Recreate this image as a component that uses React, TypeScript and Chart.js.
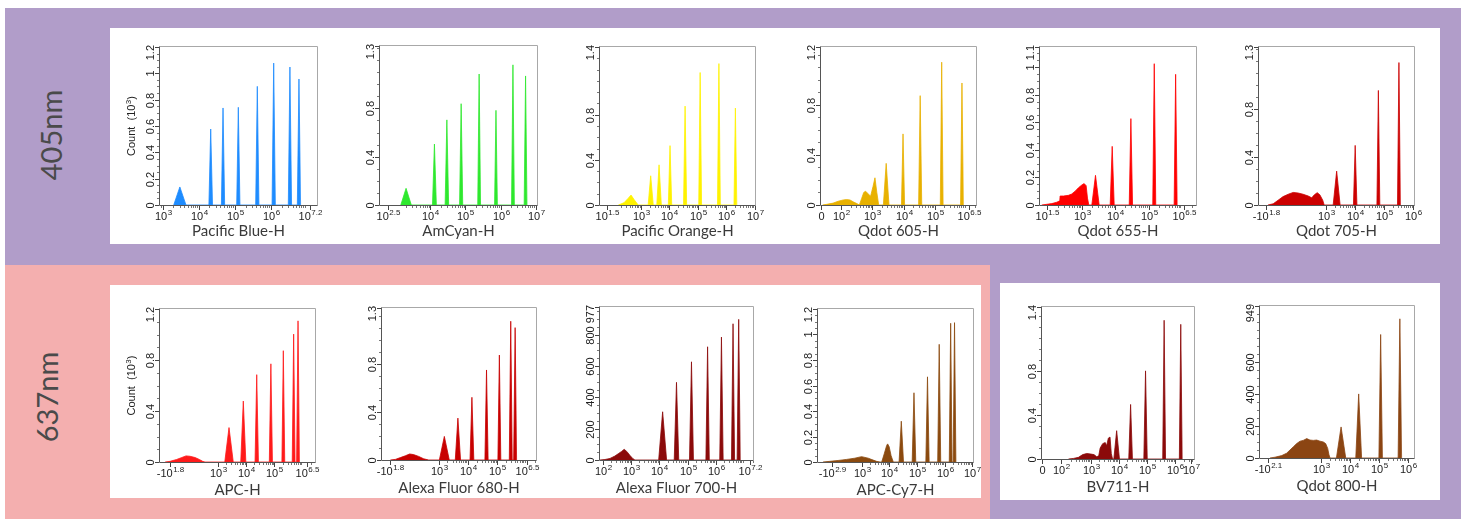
import React, { useEffect, useRef } from "react";
import { Chart, registerables } from "chart.js";

Chart.register(...registerables);

// ---------- DATA (x in display decades, y in counts x10^3 or counts) ----------
// peaks: [center, height, halfWidth]; hump: [x, y] points of broad populations

const pbXTicks: [number, string, string][] = [[3, "10", "3"], [4, "10", "4"], [5, "10", "5"], [6, "10", "6"], [7.08, "10", "7.2"]];
const pbYTicks = [0, 0.2, 0.4, 0.6, 0.8, 1];
const pbHump: number[][] = [];
const pbPeaks = [[3.48, 0.137, 0.17], [4.335, 0.577, 0.05], [4.676, 0.737, 0.045], [5.1, 0.742, 0.045], [5.626, 0.901, 0.045], [6.08, 1.078, 0.045], [6.53, 1.048, 0.045], [6.78, 0.957, 0.045]];

const acXTicks: [number, string, string][] = [[2.78, "10", "2.5"], [4, "10", "4"], [5, "10", "5"], [6, "10", "6"], [7, "10", "7"]];
const acYTicks = [0, 0.4, 0.8];
const acHump: number[][] = [];
const acPeaks = [[3.306, 0.138, 0.15], [4.115, 0.505, 0.055], [4.47, 0.705, 0.05], [4.877, 0.839, 0.045], [5.39, 1.085, 0.04], [5.87, 0.784, 0.04], [6.354, 1.161, 0.04], [6.714, 1.069, 0.04]];

const poXTicks: [number, string, string][] = [[1.79, "10", "1.5"], [3, "10", "3"], [4, "10", "4"], [5, "10", "5"], [6, "10", "6"], [7, "10", "7"]];
const poYTicks = [0, 0.4, 0.8];
const poHump = [[2.2, 0], [2.4, 0.02], [2.55, 0.06], [2.648, 0.088], [2.75, 0.05], [2.9, 0]];
const poPeaks = [[3.34, 0.259, 0.09], [3.634, 0.356, 0.08], [4.02, 0.526, 0.06], [4.55, 0.876, 0.055], [5.08, 1.174, 0.05], [5.74, 1.253, 0.05], [6.32, 0.859, 0.05]];

const q605XTicks: [number, string, string][] = [[1.35, "0", ""], [2, "10", "2"], [3, "10", "3"], [4, "10", "4"], [5, "10", "5"], [6.1, "10", "6.5"]];
const q605YTicks = [0, 0.4, 0.8];
const q605Hump = [[1.4, 0], [1.53, 0.005], [1.74, 0.015], [1.9, 0.03], [2.06, 0.04], [2.17, 0.043], [2.28, 0.04], [2.385, 0.025], [2.51, 0.01], [2.58, 0], [2.65, 0.05], [2.72, 0.1], [2.78, 0.11], [2.86, 0.09], [2.94, 0.07], [3.02, 0.15], [3.08, 0.217], [3.14, 0.1], [3.2, 0]];
const q605Peaks = [[3.44, 0.332, 0.09], [3.98, 0.567, 0.05], [4.53, 0.872, 0.05], [5.22, 1.139, 0.045], [5.87, 0.973, 0.045]];

const q655XTicks: [number, string, string][] = [[1.95, "10", "1.5"], [3, "10", "3"], [4, "10", "4"], [5, "10", "5"], [6.07, "10", "6.5"]];
const q655YTicks = [0, 0.2, 0.4, 0.6, 0.8, 1];
const q655Hump = [[1.8, 0], [1.95, 0.005], [2.1, 0.01], [2.25, 0.02], [2.34, 0.03], [2.35, 0.065], [2.45, 0.065], [2.6, 0.07], [2.7, 0.08], [2.8, 0.1], [2.9, 0.125], [3.0, 0.145], [3.07, 0.155], [3.13, 0.14], [3.17, 0.05], [3.21, 0]];
const q655Peaks = [[3.41, 0.215, 0.11], [3.91, 0.425, 0.06], [4.47, 0.626, 0.05], [5.17, 1.024, 0.045], [5.81, 0.947, 0.045]];

const q705XTicks: [number, string, string][] = [[0.948, "-10", "1.8"], [3, "10", "3"], [4, "10", "4"], [5, "10", "5"], [6, "10", "6"]];
const q705YTicks = [0, 0.4, 0.8];
const q705Hump = [[1.0, 0], [1.18, 0.01], [1.35, 0.04], [1.52, 0.07], [1.7, 0.09], [1.87, 0.105], [2.04, 0.1], [2.21, 0.09], [2.39, 0.075], [2.51, 0.06], [2.6, 0.085], [2.7, 0.103], [2.79, 0.085], [2.89, 0.04], [2.94, 0]];
const q705Peaks = [[3.37, 0.283, 0.12], [4.01, 0.498, 0.06], [4.81, 0.957, 0.05], [5.52, 1.19, 0.05]];

const apcXTicks: [number, string, string][] = [[1.3, "-10", "1.8"], [3, "10", "3"], [4, "10", "4"], [5, "10", "5"], [6.17, "10", "6.5"]];
const apcYTicks = [0, 0.4, 0.8];
const apcHump = [[1.14, 0], [1.315, 0.005], [1.55, 0.02], [1.73, 0.035], [1.88, 0.048], [2.02, 0.045], [2.2, 0.035], [2.35, 0.02], [2.47, 0.005], [2.55, 0]];
const apcPeaks = [[3.4, 0.27, 0.15], [3.905, 0.478, 0.09], [4.38, 0.685, 0.06], [4.88, 0.77, 0.055], [5.32, 0.873, 0.05], [5.685, 1.003, 0.05], [5.84, 1.107, 0.05]];

const af680XTicks: [number, string, string][] = [[1.345, "-10", "1.8"], [3, "10", "3"], [4, "10", "4"], [5, "10", "5"], [6.04, "10", "6.5"]];
const af680YTicks = [0, 0.4, 0.8];
const af680Hump = [[1.346, 0], [1.517, 0.005], [1.69, 0.02], [1.86, 0.035], [2.007, 0.05], [2.14, 0.045], [2.315, 0.03], [2.486, 0.01], [2.66, 0]];
const af680Peaks = [[3.195, 0.196, 0.17], [3.66, 0.348, 0.09], [4.14, 0.521, 0.065], [4.64, 0.748, 0.055], [5.08, 0.872, 0.05], [5.47, 1.153, 0.05], [5.62, 1.1, 0.05]];

const af700XTicks: [number, string, string][] = [[2, "10", "2"], [3, "10", "3"], [4, "10", "4"], [5, "10", "5"], [6, "10", "6"], [7.2, "10", "7.2"]];
const af700YTicks = [0, 200, 400, 600, 800];
const af700Hump = [[1.905, 0], [2.08, 3], [2.26, 10], [2.43, 25], [2.55, 40], [2.67, 55], [2.76, 68], [2.85, 55], [2.96, 30], [3.06, 10], [3.14, 0]];
const af700Peaks = [[4.12, 308, 0.14], [4.61, 496, 0.08], [5.14, 627, 0.07], [5.71, 723, 0.06], [6.2, 785, 0.06], [6.61, 870, 0.055], [6.81, 898, 0.055]];

const cy7XTicks: [number, string, string][] = [[1.92, "-10", "2.9"], [3, "10", "3"], [4, "10", "4"], [5, "10", "5"], [6, "10", "6"], [7, "10", "7"]];
const cy7YTicks = [0, 0.2, 0.4, 0.6, 0.8, 1];
const cy7Hump = [[1.59, 0], [1.83, 0.005], [2.14, 0.012], [2.44, 0.02], [2.745, 0.03], [2.99, 0.042], [3.23, 0.03], [3.41, 0.015], [3.535, 0.005], [3.66, 0], [3.72, 0], [3.82, 0.07], [3.9, 0.13], [3.935, 0.142], [3.99, 0.12], [4.06, 0.05], [4.14, 0]];
const cy7Peaks = [[4.43, 0.32, 0.08], [4.89, 0.543, 0.065], [5.38, 0.668, 0.06], [5.805, 0.923, 0.055], [6.22, 1.088, 0.05], [6.36, 1.093, 0.05]];

const bv711XTicks: [number, string, string][] = [[1.29, "0", ""], [1.95, "10", "2"], [3, "10", "3"], [4, "10", "4"], [5, "10", "5"], [6, "10", "6"], [6.58, "10", "7"]];
const bv711YTicks = [0, 0.4, 0.8];
const bv711Hump = [[2.216, 0], [2.39, 0.005], [2.57, 0.015], [2.72, 0.04], [2.865, 0.05], [3.01, 0.045], [3.12, 0.04], [3.22, 0.02], [3.29, 0.03], [3.34, 0.1], [3.43, 0.14], [3.52, 0.15], [3.57, 0.12], [3.63, 0.19], [3.69, 0.2], [3.735, 0.05], [3.78, 0]];
const bv711Peaks = [[3.925, 0.258, 0.1], [4.42, 0.497, 0.065], [4.95, 0.803, 0.06], [5.61, 1.264, 0.05], [6.2, 1.227, 0.05]];

const q800XTicks: [number, string, string][] = [[1.17, "-10", "2.1"], [3, "10", "3"], [4, "10", "4"], [5, "10", "5"], [6, "10", "6"]];
const q800YTicks = [0, 200, 400, 600];
const q800Hump = [[1.247, 0], [1.42, 5], [1.65, 15], [1.82, 30], [1.935, 50], [2.05, 70], [2.165, 90], [2.28, 105], [2.39, 110], [2.51, 121], [2.62, 112], [2.735, 110], [2.85, 112], [2.965, 105], [3.08, 100], [3.16, 90], [3.23, 60], [3.275, 20], [3.31, 0]];
const q800Peaks = [[3.69, 194, 0.16], [4.295, 400, 0.1], [5.05, 771, 0.06], [5.71, 869, 0.06]];

// ---------- LAYOUT ----------
type Panel = {
  title: string; color: string;
  left: number; right: number; top: number; bottom: number;
  xMin: number; xMax: number; yMax: number; yTop: string;
  xTicks: [number, string, string][]; yTicks: number[];
  hump: number[][]; peaks: number[][];
  yTitle: boolean; minorStart: number; titleDy: number;
};

const panels: Panel[] = [
  { title: "Pacific Blue-H", color: "#1E8CFF", left: 160, right: 317, top: 47, bottom: 205, xMin: 2.93, xMax: 7.28, yMax: 1.2, yTop: "1.2", xTicks: pbXTicks, yTicks: pbYTicks, hump: pbHump, peaks: pbPeaks, yTitle: true, minorStart: 2, titleDy: 26 },
  { title: "AmCyan-H", color: "#2EE82E", left: 380, right: 537, top: 46, bottom: 205, xMin: 2.563, xMax: 7.04, yMax: 1.317, yTop: "1.3", xTicks: acXTicks, yTicks: acYTicks, hump: acHump, peaks: acPeaks, yTitle: false, minorStart: 3, titleDy: 26 },
  { title: "Pacific Orange-H", color: "#FFF200", left: 600, right: 755, top: 47, bottom: 205, xMin: 1.556, xMax: 7.01, yMax: 1.4, yTop: "1.4", xTicks: poXTicks, yTicks: poYTicks, hump: poHump, peaks: poPeaks, yTitle: false, minorStart: 2, titleDy: 26 },
  { title: "Qdot 605-H", color: "#E8B100", left: 821, right: 976, top: 47, bottom: 205, xMin: 1.35, xMax: 6.32, yMax: 1.26, yTop: "1.2", xTicks: q605XTicks, yTicks: q605YTicks, hump: q605Hump, peaks: q605Peaks, yTitle: false, minorStart: 2, titleDy: 26 },
  { title: "Qdot 655-H", color: "#FF0000", left: 1040, right: 1196, top: 47, bottom: 205, xMin: 1.748, xMax: 6.42, yMax: 1.145, yTop: "1.1", xTicks: q655XTicks, yTicks: q655YTicks, hump: q655Hump, peaks: q655Peaks, yTitle: false, minorStart: 2, titleDy: 26 },
  { title: "Qdot 705-H", color: "#CC0000", left: 1259, right: 1414, top: 47, bottom: 205, xMin: 0.69, xMax: 6.04, yMax: 1.32, yTop: "1.3", xTicks: q705XTicks, yTicks: q705YTicks, hump: q705Hump, peaks: q705Peaks, yTitle: false, minorStart: 3, titleDy: 26 },
  { title: "APC-H", color: "#FF1A1A", left: 160, right: 315, top: 309, bottom: 462, xMin: 0.96, xMax: 6.44, yMax: 1.2, yTop: "1.2", xTicks: apcXTicks, yTicks: apcYTicks, hump: apcHump, peaks: apcPeaks, yTitle: true, minorStart: 3, titleDy: 28 },
  { title: "Alexa Fluor 680-H", color: "#C80000", left: 382, right: 536, top: 308, bottom: 460, xMin: 1.06, xMax: 6.335, yMax: 1.263, yTop: "1.3", xTicks: af680XTicks, yTicks: af680YTicks, hump: af680Hump, peaks: af680Peaks, yTitle: false, minorStart: 3, titleDy: 28 },
  { title: "Alexa Fluor 700-H", color: "#8B0A0A", left: 600, right: 753, top: 307, bottom: 460, xMin: 1.905, xMax: 7.316, yMax: 977, yTop: "977", xTicks: af700XTicks, yTicks: af700YTicks, hump: af700Hump, peaks: af700Peaks, yTitle: false, minorStart: 2, titleDy: 28 },
  { title: "APC-Cy7-H", color: "#8B4A0F", left: 818, right: 973, top: 309, bottom: 462, xMin: 1.41, xMax: 7.03, yMax: 1.2, yTop: "1.2", xTicks: cy7XTicks, yTicks: cy7YTicks, hump: cy7Hump, peaks: cy7Peaks, yTitle: false, minorStart: 3, titleDy: 28 },
  { title: "BV711-H", color: "#8B0A0A", left: 1042, right: 1194, top: 307, bottom: 459, xMin: 1.276, xMax: 6.67, yMax: 1.385, yTop: "1.4", xTicks: bv711XTicks, yTicks: bv711YTicks, hump: bv711Hump, peaks: bv711Peaks, yTitle: false, minorStart: 2, titleDy: 28 },
  { title: "Qdot 800-H", color: "#8B4513", left: 1260, right: 1414, top: 306, bottom: 458, xMin: 0.904, xMax: 6.196, yMax: 949, yTop: "949", xTicks: q800XTicks, yTicks: q800YTicks, hump: q800Hump, peaks: q800Peaks, yTitle: false, minorStart: 3, titleDy: 28 },
];

const PURPLE = "#B19DC9";
const PINK = "#F4AFAF";
const TICK_FONT = '"Liberation Sans", Arial, sans-serif';
const PAD = { left: 48, top: 12, right: 26, bottom: 42 };

function buildPoints(hump: number[][], peaks: number[][]) {
  const pts = hump.map(([x, y]) => ({ x, y }));
  for (const [c, h, w] of peaks) {
    pts.push({ x: c - w, y: 0 }, { x: c, y: h }, { x: c + w, y: 0 });
  }
  pts.sort((a, b) => a.x - b.x);
  return pts;
}

function axesPlugin(p: Panel) {
  return {
    id: "flowAxes",
    afterDatasetsDraw(chart: any) {
      const { ctx, chartArea: a, scales } = chart;
      const xs = scales.x, ys = scales.y;
      const L = Math.round(a.left), R = Math.round(a.right), T = Math.round(a.top), B = Math.round(a.bottom);
      ctx.save();
      ctx.lineWidth = 1;
      // frame
      ctx.strokeStyle = "#a8a8a8";
      ctx.beginPath();
      ctx.moveTo(L - 0.5, T - 0.5); ctx.lineTo(R + 0.5, T - 0.5); ctx.lineTo(R + 0.5, B + 0.5);
      ctx.stroke();
      ctx.strokeStyle = "#555";
      ctx.beginPath();
      ctx.moveTo(L - 0.5, T - 0.5); ctx.lineTo(L - 0.5, B + 0.5); ctx.lineTo(R + 0.5, B + 0.5);
      ctx.stroke();
      // x minor ticks
      ctx.strokeStyle = "#777";
      ctx.beginPath();
      for (let n = p.minorStart; n < p.xMax; n++) {
        for (let k = 2; k <= 9; k++) {
          const v = n + Math.log10(k);
          if (v <= p.xMin || v >= p.xMax) continue;
          const px = Math.round(xs.getPixelForValue(v)) + 0.5;
          ctx.moveTo(px, B + 1); ctx.lineTo(px, B + 3);
        }
      }
      ctx.stroke();
      // x major ticks + labels
      ctx.strokeStyle = "#444";
      ctx.fillStyle = "#222";
      ctx.textBaseline = "alphabetic";
      ctx.textAlign = "left";
      for (const [pos, base, exp] of p.xTicks) {
        const px = Math.round(xs.getPixelForValue(pos)) + 0.5;
        ctx.beginPath(); ctx.moveTo(px, B + 1); ctx.lineTo(px, B + 5); ctx.stroke();
        ctx.font = `11px ${TICK_FONT}`;
        const wb = ctx.measureText(base).width;
        ctx.font = `8px ${TICK_FONT}`;
        const we = exp ? ctx.measureText(exp).width + 0.5 : 0;
        const x0 = px - (wb + we) / 2;
        ctx.font = `11px ${TICK_FONT}`;
        ctx.fillText(base, x0, B + 14.5);
        if (exp) {
          ctx.font = `8px ${TICK_FONT}`;
          ctx.fillText(exp, x0 + wb + 0.5, B + 9.5);
        }
      }
      // y minor ticks
      const step = p.yTicks[1] - p.yTicks[0];
      ctx.strokeStyle = "#777";
      ctx.beginPath();
      for (let v = 0; v <= p.yMax + 1e-9; v += step / 4) {
        const py = Math.round(ys.getPixelForValue(v)) + 0.5;
        ctx.moveTo(L - 3, py); ctx.lineTo(L - 1, py);
      }
      ctx.stroke();
      // y major ticks + labels
      ctx.strokeStyle = "#444";
      ctx.font = `11px ${TICK_FONT}`;
      const yl: [number, string][] = p.yTicks.map((v) => [v, String(v)] as [number, string]);
      yl.push([p.yMax, p.yTop]);
      for (const [v, label] of yl) {
        const py = Math.round(ys.getPixelForValue(v)) + 0.5;
        ctx.beginPath(); ctx.moveTo(L - 5, py); ctx.lineTo(L - 1, py); ctx.stroke();
        const hw = ctx.measureText(label).width / 2;
        let cy = py;
        if (cy - hw < T - 2) cy = T - 2 + hw;
        ctx.save();
        ctx.translate(L - 6, cy);
        ctx.rotate(-Math.PI / 2);
        ctx.textAlign = "center";
        ctx.fillText(label, 0, 0);
        ctx.restore();
      }
      // y title
      if (p.yTitle) {
        ctx.save();
        ctx.translate(L - 25, (T + B) / 2);
        ctx.rotate(-Math.PI / 2);
        ctx.textAlign = "left";
        ctx.font = `11px ${TICK_FONT}`;
        const s1 = "Count  (10", s3 = ")";
        const w1 = ctx.measureText(s1).width, w3 = ctx.measureText(s3).width;
        ctx.font = `8px ${TICK_FONT}`;
        const w2 = ctx.measureText("3").width + 0.5;
        const x0 = -(w1 + w2 + w3) / 2;
        ctx.font = `11px ${TICK_FONT}`;
        ctx.fillText(s1, x0, 0);
        ctx.fillText(s3, x0 + w1 + w2, 0);
        ctx.font = `8px ${TICK_FONT}`;
        ctx.fillText("3", x0 + w1 + 0.3, -4.5);
        ctx.restore();
      }
      // title
      ctx.font = '15px Lato, "Open Sans", sans-serif';
      ctx.fillStyle = "#3a3a3a";
      ctx.textAlign = "center";
      ctx.textBaseline = "middle";
      ctx.fillText(p.title, (L + R) / 2, B + p.titleDy);
      ctx.restore();
    },
  };
}

function FlowChart({ panel }: { panel: Panel }) {
  const ref = useRef<HTMLCanvasElement>(null);
  const w = panel.right - panel.left + PAD.left + PAD.right;
  const h = panel.bottom - panel.top + PAD.top + PAD.bottom;
  useEffect(() => {
    const chart = new Chart(ref.current as HTMLCanvasElement, {
      type: "line",
      data: {
        datasets: [{
          data: buildPoints(panel.hump, panel.peaks),
          borderColor: panel.color,
          backgroundColor: panel.color,
          fill: "origin",
          pointRadius: 0,
          borderWidth: 0.8,
          tension: 0,
        }],
      },
      options: {
        responsive: false,
        animation: false,
        devicePixelRatio: 1,
        events: [],
        layout: { padding: PAD },
        plugins: { legend: { display: false }, tooltip: { enabled: false }, title: { display: false } },
        scales: {
          x: { type: "linear", display: false, min: panel.xMin, max: panel.xMax },
          y: { type: "linear", display: false, min: 0, max: panel.yMax },
        },
      } as any,
      plugins: [axesPlugin(panel)],
    });
    return () => chart.destroy();
  }, []);
  return (
    <canvas
      ref={ref}
      width={w}
      height={h}
      style={{ position: "absolute", left: panel.left - PAD.left, top: panel.top - PAD.top, width: w, height: h }}
    />
  );
}

const box = (l: number, t: number, r: number, b: number, bg: string): React.CSSProperties => ({
  position: "absolute", left: l, top: t, width: r - l, height: b - t, background: bg,
});

const sideLabel = (cx: number, cy: number): React.CSSProperties => ({
  position: "absolute", left: cx, top: cy, transform: "translate(-50%, -50%) rotate(-90deg)",
  fontFamily: "Lato, sans-serif", fontSize: 29, color: "#4a4a4a", whiteSpace: "nowrap", lineHeight: 1,
});

export default function App() {
  return (
    <div style={{ position: "absolute", left: 0, top: 0, width: 1466, height: 519, background: "#fff", overflow: "hidden" }}>
      <div style={box(5, 8, 1461, 519, PURPLE)} />
      <div style={box(5, 265, 990, 519, PINK)} />
      <div style={box(110, 28, 1440, 244, "#fff")} />
      <div style={box(110, 285, 981, 498, "#fff")} />
      <div style={box(1000, 283, 1440, 500, "#fff")} />
      <div style={sideLabel(50, 135)}>405nm</div>
      <div style={sideLabel(46, 397)}>637nm</div>
      {panels.map((p) => <FlowChart key={p.title} panel={p} />)}
    </div>
  );
}
